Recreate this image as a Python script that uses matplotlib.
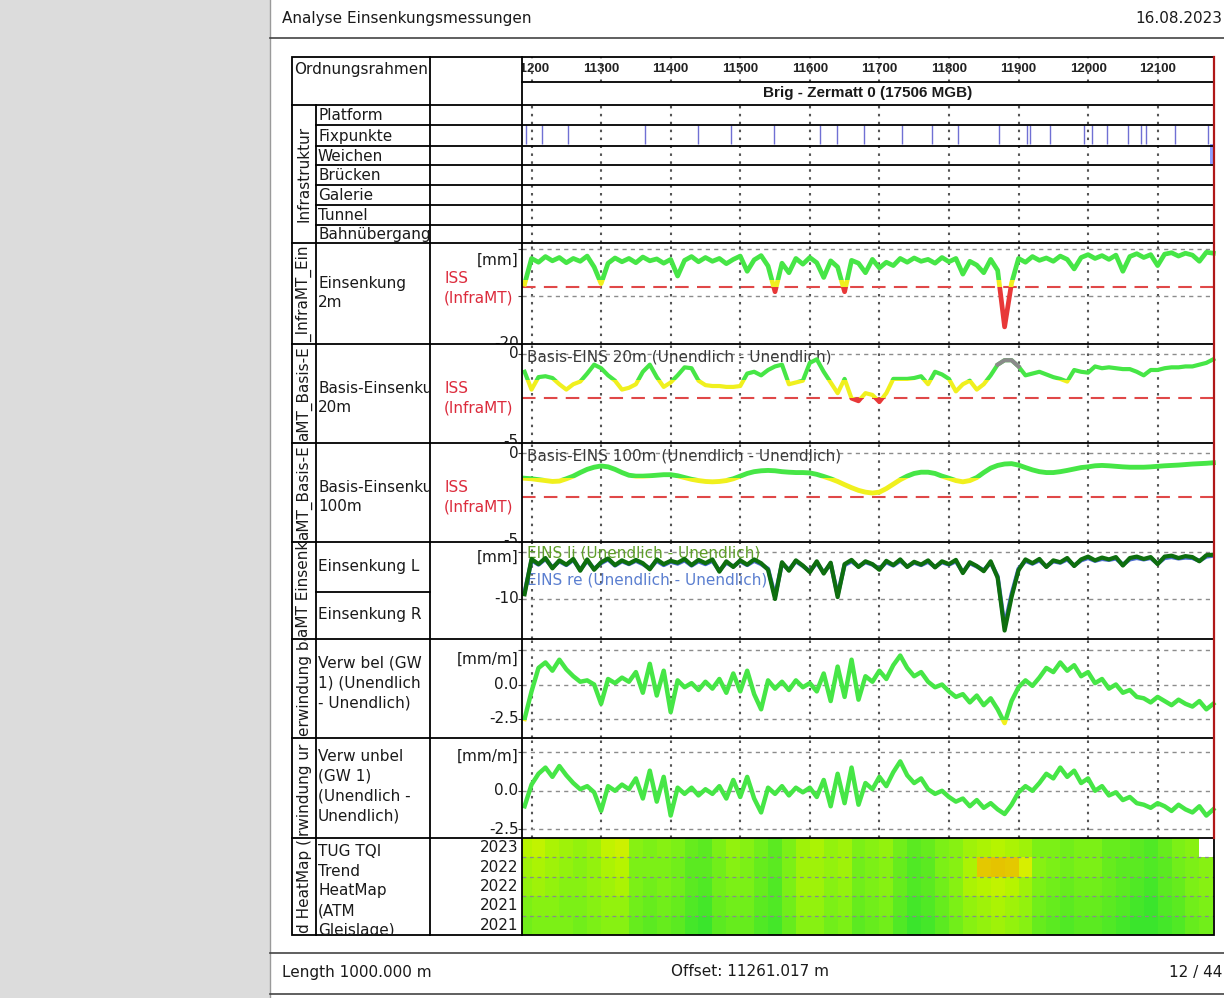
import numpy as np
import matplotlib
matplotlib.use("Agg")
import matplotlib.pyplot as plt
from matplotlib.patches import Rectangle
from matplotlib.colors import LinearSegmentedColormap
from matplotlib.transforms import Bbox, TransformedBbox, blended_transform_factory

plt.rcParams['font.family'] = ['DejaVu Sans']

# ------------------------------------------------------------------ data
chainage = list(range(11190, 12190, 10))          # m, 100 samples
grid_ticks = [11200, 11300, 11400, 11500, 11600, 11700, 11800, 11900, 12000, 12100]

einsenkung_2m = [
    -7.4, -2.0, -2.8, -1.6, -2.5, -1.8, -2.9, -2.0, -2.6, -1.5,
    -3.8, -7.3, -3.0, -1.9, -2.7, -2.0, -2.9, -1.7, -2.5, -2.1,
    -3.0, -2.2, -5.7, -2.4, -1.6, -2.7, -1.8, -2.6, -2.0, -3.1,
    -2.2, -1.5, -4.7, -2.3, -1.4, -3.6, -9.0, -3.0, -5.0, -2.0,
    -3.2, -1.8, -2.9, -6.0, -2.5, -3.8, -9.0, -2.4, -3.0, -5.0,
    -2.2, -4.0, -2.8, -3.5, -2.0, -2.8, -1.9, -2.6, -2.2, -3.0,
    -1.8, -2.7, -2.0, -5.3, -2.6, -3.4, -5.0, -2.2, -4.5, -16.4,
    -7.2, -2.0, -2.8, -1.6, -2.4, -1.9, -2.6, -1.5, -2.2, -4.2,
    -1.8, -1.2, -2.0, -1.4, -2.2, -1.3, -4.7, -1.6, -1.0, -1.8,
    -1.2, -3.5, -1.1, -0.8, -1.5, -0.9, -1.3, -2.6, -0.7, -0.9]

basis_20m = [
    -1.0, -2.0, -1.3, -1.25, -1.35, -1.7, -2.0, -1.7, -1.55, -1.1,
    -0.6, -0.8, -1.2, -1.5, -2.0, -1.9, -1.7, -1.0, -0.6, -1.3,
    -1.85, -1.6, -1.2, -0.75, -0.8, -1.5, -1.75, -1.8, -1.8, -1.85,
    -1.85, -1.8, -1.1, -1.0, -1.2, -0.9, -0.7, -0.6, -1.7, -1.6,
    -1.5, -0.5, -0.3, -1.0, -1.6, -2.2, -1.4, -2.5, -2.65, -2.2,
    -2.3, -2.7, -2.2, -1.4, -1.4, -1.4, -1.35, -1.25, -1.7, -1.0,
    -1.15, -1.4, -2.1, -1.7, -1.5, -2.0, -1.7, -1.2, -0.6, -0.35,
    -0.35, -0.7, -1.2, -1.1, -1.0, -1.15, -1.3, -1.4, -1.55, -0.9,
    -1.0, -1.05, -0.7, -0.8, -0.75, -0.8, -0.85, -0.85, -1.0, -1.2,
    -0.9, -0.9, -0.8, -0.75, -0.75, -0.7, -0.7, -0.6, -0.5, -0.3]
basis_20m_gray = (11870, 11900)

basis_100m = [
    -1.42, -1.45, -1.50, -1.55, -1.60, -1.58, -1.45, -1.30, -1.10, -0.92,
    -0.80, -0.73, -0.78, -0.92, -1.10, -1.25, -1.30, -1.30, -1.28, -1.25,
    -1.22, -1.22, -1.28, -1.38, -1.48, -1.55, -1.60, -1.62, -1.60, -1.55,
    -1.45, -1.30, -1.15, -1.05, -1.00, -0.98, -1.00, -1.05, -1.08, -1.10,
    -1.10, -1.12, -1.20, -1.32, -1.45, -1.60, -1.78, -1.95, -2.10, -2.20,
    -2.25, -2.20, -2.00, -1.75, -1.50, -1.30, -1.15, -1.08, -1.08, -1.15,
    -1.30, -1.42, -1.55, -1.62, -1.55, -1.38, -1.10, -0.85, -0.70, -0.62,
    -0.60, -0.68, -0.82, -0.95, -1.05, -1.10, -1.10, -1.05, -0.98, -0.90,
    -0.82, -0.78, -0.72, -0.70, -0.72, -0.75, -0.78, -0.80, -0.80, -0.80,
    -0.78, -0.75, -0.72, -0.70, -0.68, -0.65, -0.62, -0.60, -0.58, -0.55]

eins_li = [
    -9.0, -1.5, -2.6, -1.3, -3.5, -1.8, -2.7, -1.5, -4.0, -1.6,
    -3.8, -2.2, -1.4, -2.8, -1.8, -2.5, -1.7, -2.4, -3.7, -1.6,
    -2.6, -1.9, -2.3, -1.5, -2.8, -1.7, -2.4, -1.6, -4.2, -2.0,
    -3.2, -1.8, -2.7, -1.6, -2.4, -3.8, -10.0, -2.2, -4.0, -1.8,
    -2.9, -4.3, -2.0, -4.6, -2.3, -9.6, -2.6, -1.7, -3.2, -2.0,
    -2.6, -3.8, -1.9, -2.8, -1.6, -3.2, -2.1, -2.7, -1.8, -3.3,
    -2.0, -2.6, -1.7, -4.5, -2.2, -3.0, -4.1, -2.0, -5.5, -16.7,
    -9.6, -3.9, -1.6, -2.4, -1.5, -3.2, -1.8, -2.2, -1.3, -3.0,
    -1.6, -1.0, -1.8, -1.2, -1.6, -1.1, -2.9, -1.3, -1.0, -1.5,
    -1.1, -2.6, -1.0, -0.8, -1.3, -0.9, -1.1, -2.0, -0.7, -0.6]

eins_re = [
    -8.6, -1.8, -2.7, -1.5, -3.3, -2.0, -2.8, -1.7, -3.8, -1.9,
    -3.6, -2.4, -1.6, -2.9, -2.0, -2.6, -1.9, -2.6, -3.5, -1.9,
    -2.8, -2.1, -2.5, -1.8, -2.9, -2.0, -2.6, -1.9, -4.0, -2.3,
    -3.1, -2.0, -2.8, -1.9, -2.6, -3.6, -9.4, -2.5, -3.8, -2.0,
    -3.0, -4.1, -2.3, -4.4, -2.5, -9.1, -2.8, -2.0, -3.1, -2.2,
    -2.7, -3.6, -2.2, -2.9, -1.9, -3.1, -2.3, -2.8, -2.1, -3.2,
    -2.2, -2.7, -2.0, -4.3, -2.4, -3.1, -3.9, -2.3, -5.2, -15.8,
    -9.0, -3.6, -1.9, -2.5, -1.8, -3.1, -2.0, -2.3, -1.6, -2.9,
    -1.8, -1.3, -1.9, -1.5, -1.7, -1.4, -2.7, -1.6, -1.3, -1.6,
    -1.3, -2.5, -1.3, -1.1, -1.4, -1.2, -1.3, -1.9, -1.0, -0.8]

verw_bel = [
    -2.5, -0.5, 1.2, 1.6, 1.0, 1.8, 1.1, 0.6, 0.2, 0.3,
    0.0, -1.4, 0.4, 0.1, 0.5, 0.2, 0.9, -0.6, 1.5, -0.8,
    1.0, -2.0, 0.3, -0.2, 0.1, -0.4, 0.2, -0.3, 0.4, -0.6,
    0.8, -0.5, 1.0, -0.7, -1.8, 0.3, -0.3, 0.2, -0.4, 0.3,
    -0.2, 0.1, -0.5, 0.8, -1.2, 1.3, -0.9, 1.8, -1.1, 0.6,
    0.2, 1.0, 0.4, 1.4, 2.1, 1.2, 0.6, 0.9, 0.2, -0.2,
    0.0, -0.5, -0.9, -0.7, -1.3, -0.8, -1.5, -1.0, -1.8, -2.8,
    -1.2, -0.2, 0.3, -0.1, 0.5, 1.2, 0.9, 1.6, 1.0, 1.4,
    0.6, 0.9, 0.1, 0.4, -0.3, 0.0, -0.6, -0.4, -0.9, -1.0,
    -1.3, -0.9, -1.2, -1.5, -1.1, -1.4, -1.6, -1.2, -1.8, -1.4]

verw_unbel = [
    -1.0, 0.4, 1.1, 1.5, 0.9, 1.6, 1.0, 0.5, 0.1, 0.3,
    -0.1, -1.3, 0.3, 0.0, 0.4, 0.1, 0.8, -0.5, 1.3, -0.7,
    0.9, -1.6, 0.2, -0.2, 0.2, -0.3, 0.1, -0.2, 0.3, -0.5,
    0.7, -0.4, 0.9, -0.5, -1.4, 0.2, -0.2, 0.3, -0.3, 0.2,
    -0.1, 0.2, -0.4, 0.7, -1.0, 1.1, -0.8, 1.5, -0.9, 0.5,
    0.1, 0.9, 0.3, 1.2, 1.9, 1.0, 0.5, 0.8, 0.1, -0.2,
    0.0, -0.4, -0.7, -0.5, -1.0, -0.6, -1.1, -0.8, -1.2, -1.5,
    -0.9, -0.1, 0.3, 0.0, 0.5, 1.1, 0.8, 1.5, 0.9, 1.3,
    0.5, 0.8, 0.0, 0.3, -0.3, -0.1, -0.6, -0.4, -0.8, -0.9,
    -1.1, -0.8, -1.0, -1.3, -0.9, -1.2, -1.4, -1.0, -1.6, -1.2]

fixpunkte = [11192, 11215, 11253, 11363, 11440, 11487, 11549, 11615, 11639,
             11678, 11732, 11775, 11813, 11872, 11912, 11916, 11945, 11994,
             12006, 12027, 12057, 12076, 12083, 12125, 12172]
weichen = [12178]

heat_years = ['2023', '2022', '2022', '2021', '2021']
heat_edges = list(range(11180, 12200, 20))       # 51 edges -> 50 cells
heat_2023 = [.55, .6, .5, .45, .4, .45, .6, .65, .35, .3, .35, .3, .2, .15, .3, .4, .35, .25, .15, .3,
             .45, .5, .4, .45, .3, .35, .4, .25, .15, .2, .3, .35, .45, .5, .55, .5, .45, .3, .3, .25,
             .3, .3, .2, .2, .15, .1, .2, .3, .35, np.nan]
heat_2022a = [.45, .5, .45, .4, .35, .4, .5, .55, .3, .3, .3, .25, .15, .15, .25, .35, .3, .2, .15, .3,
              .45, .45, .4, .45, .25, .3, .35, .2, .1, .15, .3, .35, .5, .9, .92, .9, .7, .35, .3, .25,
              .3, .3, .2, .15, .15, .1, .15, .25, .3, .35]
heat_2022b = [.4, .45, .4, .35, .35, .4, .45, .5, .3, .25, .3, .25, .15, .1, .25, .3, .3, .2, .1, .3,
              .45, .45, .35, .4, .25, .3, .35, .2, .1, .15, .25, .35, .5, .55, .6, .55, .45, .3, .25, .2,
              .25, .25, .2, .15, .1, .05, .15, .2, .3, .35]
heat_2021a = [.3, .35, .35, .3, .3, .35, .4, .4, .25, .2, .25, .2, .1, .05, .2, .25, .25, .15, .1, .25,
              .4, .4, .3, .35, .2, .25, .3, .15, .05, .1, .2, .3, .4, .45, .5, .45, .4, .25, .2, .15,
              .2, .2, .15, .1, .05, .0, .1, .15, .25, .3]
heat_2021b = [.25, .3, .3, .3, .25, .3, .35, .35, .2, .15, .2, .15, .05, .0, .15, .2, .2, .1, .05, .2,
              .35, .35, .25, .3, .15, .2, .25, .1, .0, .05, .15, .25, .35, .4, .45, .4, .35, .2, .15, .1,
              .15, .15, .1, .05, .0, .0, .05, .1, .2, .25]

# ------------------------------------------------------------------ style
GREEN, YELLOW, RED, GRAY = '#46e646', '#f0f01e', '#e83838', '#8a8a8a'
ISS_RED = '#dc2b3c'
W, H = 1224, 998
XL = (11186.3, 12181)
PX0, PX1 = 522, 1214

fig = plt.figure(figsize=(W / 100, H / 100), dpi=100)
fig.patch.set_facecolor('white')


def frac_box(x0, y0, x1, y1):
    return [x0 / W, 1 - y1 / H, (x1 - x0) / W, (y1 - y0) / H]


def clipbox(x0, y0, x1, y1):
    return TransformedBbox(Bbox.from_extents(x0 / W, 1 - y1 / H, x1 / W, 1 - y0 / H),
                           fig.transFigure)


bg = fig.add_axes([0, 0, 1, 1], zorder=0)
bg.set_xlim(0, W); bg.set_ylim(H, 0); bg.axis('off')
bg.add_patch(Rectangle((0, 0), 270, H, facecolor='#dcdcdc', edgecolor='none'))

ov = fig.add_axes([0, 0, 1, 1], zorder=20)
ov.set_xlim(0, W); ov.set_ylim(H, 0); ov.axis('off')


def hl(y, x0, x1, color='black', lw=1.3):
    ov.plot([x0, x1], [y, y], color=color, lw=lw, solid_capstyle='projecting')


def vl(x, y0, y1, color='black', lw=1.3):
    ov.plot([x, x], [y0, y1], color=color, lw=lw, solid_capstyle='projecting')


def txt(x, y, s, clip=None, **kw):
    kw.setdefault('fontsize', 11)
    kw.setdefault('color', '#1a1a1a')
    t = ov.text(x, y, s, **kw)
    if clip is not None:
        t.set_clip_box(clipbox(*clip))
        t.set_clip_on(True)
    return t


def data_axes(y0, y1, ylim, yticks):
    ax = fig.add_axes(frac_box(PX0, y0, PX1, y1), zorder=5)
    ax.set_xlim(*XL); ax.set_ylim(*ylim)
    for s in ax.spines.values():
        s.set_visible(False)
    ax.set_xticks(grid_ticks)
    ax.tick_params(axis='x', length=0, labelbottom=False)
    ax.set_yticks(yticks)
    ax.tick_params(axis='y', length=3, width=0.8, color='#444', labelleft=False)
    ax.xaxis.grid(True, color='#555555', lw=1.5, ls=(0, (1.2, 2.6)))
    ax.yaxis.grid(True, color='#8c8c8c', lw=1.0, ls=(0, (3, 3)))
    ax.set_axisbelow(True)
    ax.patch.set_alpha(0)
    return ax


def ylab(ax, v, s, cell, color='#1a1a1a'):
    t = ax.text(-0.005, v, s, transform=blended_transform_factory(ax.transAxes, ax.transData),
                ha='right', va='center', fontsize=11, color=color)
    t.set_clip_path(None)
    t.set_clip_box(clipbox(*cell))
    t.set_clip_on(True)


def banded(ax, x, y, bands, lw, z=3):
    for lo, hi, col in bands:
        ln, = ax.plot(x, y, color=col, lw=lw, zorder=z, solid_joinstyle='round')
        ln.set_clip_path(Rectangle((10000, lo), 4000, hi - lo, transform=ax.transData))


def threshold(ax, v):
    ax.axhline(v, color='#e04848', lw=1.5, ls=(0, (6.5, 4)), zorder=2.6)


x = np.array(chainage, dtype=float)

# ------------------------------------------------------------------ header ticks
axt = fig.add_axes(frac_box(PX0, 57, PX1, 82), zorder=5)
axt.set_xlim(*XL); axt.set_ylim(0, 1)
for s in axt.spines.values():
    s.set_visible(False)
axt.set_xticks(grid_ticks); axt.set_yticks([])
axt.tick_params(axis='x', length=0, labelbottom=False)
axt.xaxis.grid(True, color='#555555', lw=1.5, ls=(0, (1.2, 2.6)))
axt.set_axisbelow(False)
for t in grid_ticks:
    axt.text(t, 0.5, str(t), ha='center', va='center', fontsize=9.5, fontweight='bold',
             family='Liberation Sans', clip_on=True, zorder=1, color='#222')

# ------------------------------------------------------------------ infrastructure
axi = fig.add_axes(frac_box(PX0, 105, PX1, 243), zorder=5)
axi.set_xlim(*XL); axi.set_ylim(7, 0)
for s in axi.spines.values():
    s.set_visible(False)
axi.set_xticks(grid_ticks); axi.set_yticks([])
axi.tick_params(axis='x', length=0, labelbottom=False)
axi.xaxis.grid(True, color='#555555', lw=1.5, ls=(0, (1.2, 2.6)))
axi.set_axisbelow(True)
axi.vlines(fixpunkte, 1, 2, color='#7070d4', lw=1.0)
axi.bar(weichen, 1, width=5, bottom=2, color='#8ca0ff', align='center')

# ------------------------------------------------------------------ Einsenkung 2m
a1 = data_axes(243, 344, (-19.8, 1.25), [0, -10, -20])
banded(a1, x, einsenkung_2m, [(-1000, -8, RED), (-8, -6.5, YELLOW), (-6.5, 1000, GREEN)], 3.4)
threshold(a1, -8)
ylab(a1, -20, '-20', (430, 243, 522, 344))

# ------------------------------------------------------------------ Basis 20m
a2 = data_axes(344, 443, (-5, 0.56), [0, -5])
a2.text(0.007, 0.87, 'Basis-EINS 20m (Unendlich - Unendlich)', transform=a2.transAxes,
        fontsize=11, color='#3a3a3a', va='center', zorder=2)
banded(a2, x, basis_20m, [(-1000, -2.5, RED), (-2.5, -1.45, YELLOW), (-1.45, 1000, GREEN)], 3.0)
b20 = np.array(basis_20m, dtype=float)
gmask = (x >= basis_20m_gray[0]) & (x <= basis_20m_gray[1])
a2.plot(x, np.where(gmask, b20, np.nan), color=GRAY, lw=3.0, zorder=3.5)
threshold(a2, -2.5)
ylab(a2, 0, '0', (430, 344, 522, 443))
ylab(a2, -4.93, '-5', (430, 344, 522, 443))

# ------------------------------------------------------------------ Basis 100m
a3 = data_axes(443, 542, (-5, 0.56), [0, -5])
a3.text(0.007, 0.87, 'Basis-EINS 100m (Unendlich - Unendlich)', transform=a3.transAxes,
        fontsize=11, color='#3a3a3a', va='center', zorder=2)
banded(a3, x, basis_100m, [(-1000, -2.5, RED), (-2.5, -1.4, YELLOW), (-1.4, 1000, GREEN)], 3.5)
threshold(a3, -2.5)
ylab(a3, -0.05, '0', (430, 443, 522, 542))
ylab(a3, -4.93, '-5', (430, 443, 522, 542))

# ------------------------------------------------------------------ Einsenkung L / R
a4 = data_axes(542, 639, (-18.5, 2.1), [0, -10])
a4.text(0.007, 0.89, 'EINS li (Unendlich - Unendlich)', transform=a4.transAxes,
        fontsize=11, color='#5e9e28', va='center', zorder=2)
a4.text(0.007, 0.61, 'EINS re (Unendlich - Unendlich)', transform=a4.transAxes,
        fontsize=11, color='#5b7fd0', va='center', zorder=2)
a4.plot(x, eins_re, color='#4a6ad0', lw=3.0, zorder=3)
a4.plot(x, eins_li, color='#0e6e0e', lw=3.0, zorder=4)
ylab(a4, -1.2, '[mm]', (430, 542, 522, 639))
ylab(a4, -10, '-10', (430, 542, 522, 639))

# ------------------------------------------------------------------ Verwindung belastet
a5 = data_axes(639, 738, (-3.88, 3.3), [2.5, 0, -2.5])
banded(a5, x, verw_bel, [(-1000, -2.55, YELLOW), (-2.55, 1000, GREEN)], 3.2)
ylab(a5, 1.85, '[mm/m]', (430, 639, 522, 738))
ylab(a5, 0, '0.0', (430, 639, 522, 738))
ylab(a5, -2.5, '-2.5', (430, 639, 522, 738))

# ------------------------------------------------------------------ Verwindung unbelastet
a6 = data_axes(738, 838, (-3.05, 3.41), [2.5, 0, -2.5])
banded(a6, x, verw_unbel, [(-1000, -2.55, YELLOW), (-2.55, 1000, GREEN)], 3.2)
ylab(a6, 2.25, '[mm/m]', (430, 738, 522, 838))
ylab(a6, 0, '0.0', (430, 738, 522, 838))
ylab(a6, -2.5, '-2.5', (430, 738, 522, 838))

# ------------------------------------------------------------------ heat map
axh = fig.add_axes(frac_box(PX0, 838, PX1, 935), zorder=5)
cmap = LinearSegmentedColormap.from_list(
    'tqi', [(0.0, '#3ae52c'), (0.3, '#7cf016'), (0.55, '#b6f400'), (0.75, '#e2ee00'), (1.0, '#e6b000')])
cmap.set_bad('white')
Z = np.ma.masked_invalid(np.array([heat_2023, heat_2022a, heat_2022b, heat_2021a, heat_2021b]))
axh.pcolormesh(heat_edges, np.arange(len(heat_years) + 1), Z, cmap=cmap, vmin=0, vmax=1,
               shading='flat')
axh.set_xlim(*XL); axh.set_ylim(len(heat_years), 0)
for s in axh.spines.values():
    s.set_visible(False)
axh.set_xticks([])
axh.set_yticks([1, 2, 3, 4])
axh.tick_params(axis='y', length=0, labelleft=False)
axh.yaxis.grid(True, color='#8a8a8a', lw=0.9, ls=(0, (3, 3)))
for i, yr in enumerate(heat_years):
    ylab(axh, i + 0.5, yr, (430, 838, 522, 935))

# ------------------------------------------------------------------ page frame / table
vl(270, 0, H, color='#9a9a9a', lw=1.0)
hl(38, 270, W, color='#444444', lw=1.2)
hl(953, 270, W, color='#444444', lw=1.2)
hl(994, 270, W, color='#444444', lw=1.2)

ov.add_patch(Rectangle((292, 57), PX1 - 292, 935 - 57, fill=False, edgecolor='black', lw=1.3))
vl(316, 105, 935)
vl(430, 57, 935)
vl(522, 57, 935)
hl(82, 522, PX1)
hl(105, 292, PX1)
for yy in [125, 146, 165, 185, 205, 225]:
    hl(yy, 316, PX1)
for yy in [243, 344, 443, 542, 639, 738, 838]:
    hl(yy, 292, PX1)
hl(592, 316, 430)
vl(PX1, 57, 838, color='#b01818', lw=1.6)

# ------------------------------------------------------------------ texts
txt(282, 18, 'Analyse Einsenkungsmessungen', ha='left', va='center')
txt(1222, 18, '16.08.2023', ha='right', va='center')
txt(282, 972, 'Length 1000.000 m', ha='left', va='center')
txt(671, 972, 'Offset: 11261.017 m', ha='left', va='center')
txt(1222, 972, '12 / 44', ha='right', va='center')

txt(294, 69, 'Ordnungsrahmen', ha='left', va='center', clip=(292, 57, 430, 105))
txt(868, 93, 'Brig - Zermatt 0 (17506 MGB)', ha='center', va='center', fontsize=11,
    fontweight='bold', family='Liberation Sans')

infra_rows = ['Platform', 'Fixpunkte', 'Weichen', 'Brücken', 'Galerie', 'Tunnel', 'Bahnübergang']
infra_edges = [105, 125, 146, 165, 185, 205, 225, 243]
for i, name in enumerate(infra_rows):
    y0, y1 = infra_edges[i], infra_edges[i + 1]
    txt(318, (y0 + y1) / 2 + 0.5, name, ha='left', va='center', clip=(316, y0, 430, y1))

row_labels = [
    ('Einsenkung\n2m', 293, 243, 344),
    ('Basis-Einsenku\n20m', 398, 344, 443),
    ('Basis-Einsenku\n100m', 497, 443, 542),
    ('Einsenkung L', 567, 542, 592),
    ('Einsenkung R', 615, 592, 639),
    ('Verw bel (GW\n1) (Unendlich\n- Unendlich)', 683, 639, 738),
    ('Verw unbel\n(GW 1)\n(Unendlich -\nUnendlich)', 786, 738, 838),
    ('TUG TQI\nTrend\nHeatMap\n(ATM\nGleislage)', 891, 838, 935),
]
for s, yc, y0, y1 in row_labels:
    txt(318, yc, s, ha='left', va='center', linespacing=1.4, clip=(316, y0, 430, y1))

for yc, y0, y1 in [(288, 243, 344), (398, 344, 443), (497, 443, 542)]:
    txt(444, yc, 'ISS\n(InfraMT)', ha='left', va='center', linespacing=1.35, color=ISS_RED,
        clip=(430, y0, 522, y1))
txt(519, 260, '[mm]', ha='right', va='center', clip=(430, 243, 522, 344))

txt(304, 174, 'Infrastruktur', rotation=90, ha='center', va='center', clip=(292, 105, 316, 243))
group_labels = [
    ('_InfraMT_Ein', 342, 243, 344),
    ('aMT_Basis-E', 441, 344, 443),
    ('aMT_Basis-E', 540, 443, 542),
    ('aMT Einsenk', 637, 542, 639),
    ('erwindung ba', 736, 639, 738),
    ('rwindung ur', 836, 738, 838),
    ('d HeatMap (r', 933, 838, 935),
]
for s, ystart, y0, y1 in group_labels:
    txt(304, ystart, s, rotation=90, rotation_mode='anchor', ha='left', va='center',
        clip=(292, y0, 316, y1))

fig.savefig('out.png', dpi=100)
